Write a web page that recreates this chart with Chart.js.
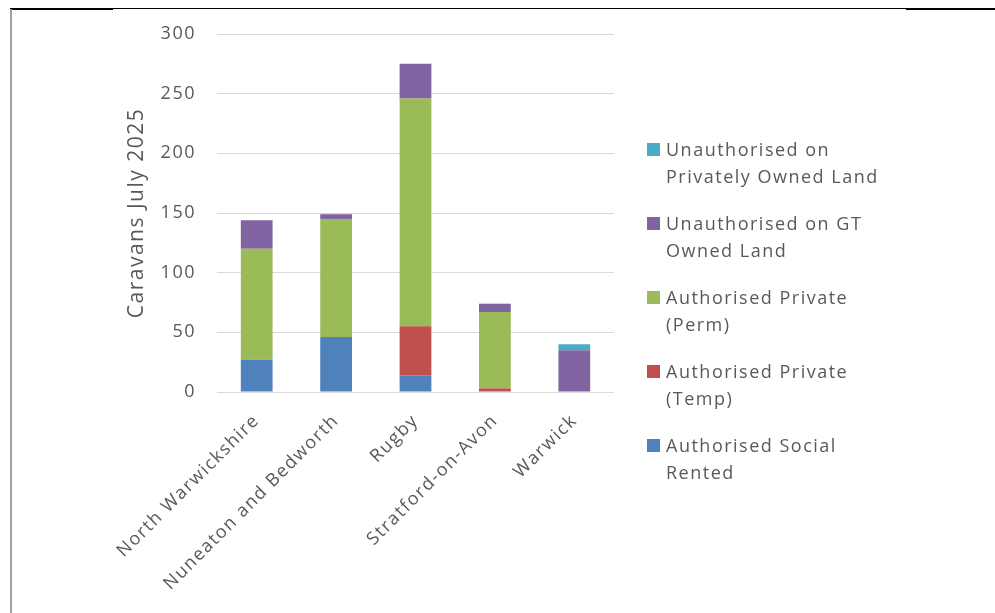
<!DOCTYPE html>
<html>
<head>
<meta charset="utf-8">
<script src="https://cdn.jsdelivr.net/npm/chart.js@4.4.1/dist/chart.umd.min.js"></script>
<style>
  body { margin: 0; background: #fff; }
  #wrap { position: relative; width: 995px; height: 613px; overflow: hidden; }
  #myChart { position: absolute; left: 0; top: 0; }
  .rule { position: absolute; background: #000; }
  #legend { position: absolute; left: 647px; top: 136px; font-family: "Open Sans", sans-serif;
    font-size: 18px; letter-spacing: 1.5px; color: #595959; line-height: 27px; }
  #legend .item { display: flex; align-items: flex-start; margin-bottom: 20px; }
  #legend .box { width: 13px; height: 13px; margin-top: 7px; margin-right: 6px; flex: none; }
</style>
</head>
<body>
<div id="wrap">
  <!-- page frame -->
  <div class="rule" style="left:10px; top:8px; width:985px; height:1px;"></div>
  <div class="rule" style="left:10px; top:8px; width:103px; height:2px;"></div>
  <div class="rule" style="left:906px; top:8px; width:89px; height:2px;"></div>
  <div class="rule" style="left:10px; top:9px; width:2px; height:604px; background:#a0a0a0;"></div>
  <canvas id="myChart" width="995" height="613"></canvas>
  <div id="legend"></div>
</div>
<script>
// caravan counts per district
const districts = ['North Warwickshire', 'Nuneaton and Bedworth', 'Rugby', 'Stratford-on-Avon', 'Warwick'];
const socialRented = [27, 46, 14, 0, 0];
const privateTemp = [0, 0, 41, 3, 0];
const privatePerm = [93, 99, 191, 64, 0];
const gtOwned = [24, 4, 29, 7, 35];
const privatelyOwned = [0, 0, 0, 0, 5];

const seriesNames = [
    ['Authorised Social', 'Rented'],
    ['Authorised Private', '(Temp)'],
    ['Authorised Private', '(Perm)'],
    ['Unauthorised on GT', 'Owned Land'],
    ['Unauthorised on', 'Privately Owned Land']
];
const seriesColors = ['#4f81bd', '#c0504d', '#9bbb59', '#8064a2', '#4bacc6'];
const seriesValues = [socialRented, privateTemp, privatePerm, gtOwned, privatelyOwned];

const yMin = 0;
const yMax = 300;
const yStep = 50;

const textColor = '#595959';
const font = { family: '"Open Sans", sans-serif', size: 18 };
const titleFont = { family: '"Open Sans", sans-serif', size: 21 };

// spaced-out lettering for axis text
const spacing = {
    id: 'spacing',
    beforeUpdate(chart) { chart.ctx.letterSpacing = '1.5px'; },
    beforeLayout(chart) { chart.ctx.letterSpacing = '1.5px'; },
    beforeDraw(chart) { chart.ctx.letterSpacing = '1.5px'; }
};

let datasets = [];
for (let i = 0; i < seriesValues.length; i++) {
    datasets.push({
        label: seriesNames[i].join(' '),
        data: seriesValues[i],
        backgroundColor: seriesColors[i],
        borderWidth: 0,
        barPercentage: 0.5,
        categoryPercentage: 0.8
    });
}

const ctx = document.getElementById('myChart').getContext('2d');
const chart = new Chart(ctx, {
    type: 'bar',
    data: { labels: districts, datasets: datasets },
    options: {
        responsive: false,
        animation: false,
        layout: { padding: { left: 124, top: 34, right: 381, bottom: 0 } },
        plugins: {
            legend: { display: false },
            tooltip: { enabled: false }
        },
        scales: {
            x: {
                stacked: true,
                grid: { display: false },
                border: { display: false },
                ticks: {
                    color: textColor, font: font, autoSkip: false,
                    maxRotation: 45, minRotation: 45, padding: 10
                },
                afterFit(scale) { scale.height = 221; }
            },
            y: {
                stacked: true,
                min: yMin,
                max: yMax,
                grid: { color: '#d9d9d9', drawTicks: false },
                border: { display: false },
                ticks: { stepSize: yStep, color: textColor, font: font, padding: 21 },
                title: {
                    display: true, text: 'Caravans July 2025', color: textColor,
                    font: titleFont, padding: { top: 0, bottom: 0 }
                },
                afterFit(scale) { scale.width = 93; }
            }
        }
    },
    plugins: [spacing]
});

// legend listed top-down in reverse stacking order
const legend = document.getElementById('legend');
for (let j = datasets.length - 1; j >= 0; j--) {
    const item = document.createElement('div');
    item.className = 'item';
    item.innerHTML = "<span class='box' style='background:" + seriesColors[j] + "'></span>" +
        '<span>' + seriesNames[j].join('<br>') + '</span>';
    legend.appendChild(item);
}
</script>
</body>
</html>
